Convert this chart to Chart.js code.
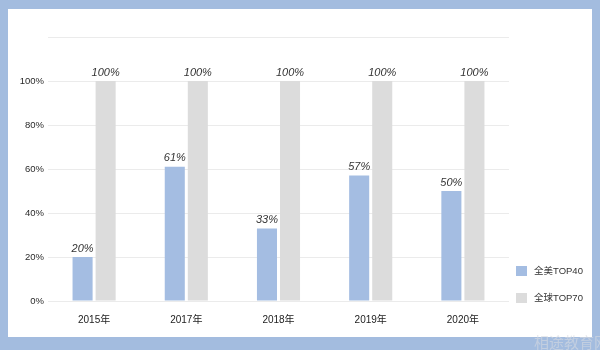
<!DOCTYPE html>
<html>
<head>
<meta charset="utf-8">
<script src="https://cdn.jsdelivr.net/npm/chart.js@4"></script>
<style>
  html, body { margin: 0; padding: 0; }
  body { width: 600px; height: 350px; background: #a3bcdf; position: relative; overflow: hidden; }
  #card { position: absolute; left: 8px; top: 9px; width: 584px; height: 328px; background: #fff; }
  #mark { position: absolute; left: 534px; top: 331px; font: 15px "Noto Sans CJK SC", sans-serif; color: rgba(215, 218, 225, 0.6); white-space: nowrap; }
</style>
</head>
<body>
<div id="card"><canvas id="myChart" width="584" height="328"></canvas></div>
<div id="mark">相途教育网</div>
<script>
// categories and series
var years = ['2015年', '2017年', '2018年', '2019年', '2020年'];
var usTop40 = [20, 61, 33, 57, 50];
var worldTop70 = [100, 100, 100, 100, 100];
// y ticks: 0..100 labelled, 120 is only a gridline
var yTicks = [0, 20, 40, 60, 80, 100, 120];

var fontFamily = '"Liberation Sans", Arial, "Noto Sans CJK SC", sans-serif';

// percent labels above each bar
var valueLabels = {
  id: 'valueLabels',
  afterDatasetsDraw: function (chart) {
    var ctx = chart.ctx;
    ctx.save();
    ctx.font = 'italic 11px ' + fontFamily;
    ctx.fillStyle = '#333';
    ctx.textAlign = 'center';
    ctx.textBaseline = 'bottom';
    chart.data.datasets.forEach(function (ds, i) {
      chart.getDatasetMeta(i).data.forEach(function (bar, j) {
        ctx.fillText(ds.data[j] + '%', bar.x, bar.y - 3);
      });
    });
    ctx.restore();
  }
};

// legend stacked at the bottom right, next to the plot
var sideLegend = {
  id: 'sideLegend',
  afterDraw: function (chart) {
    var ctx = chart.ctx;
    var area = chart.chartArea;
    var n = chart.data.datasets.length;
    ctx.save();
    ctx.font = '9.5px ' + fontFamily;
    ctx.textBaseline = 'middle';
    chart.data.datasets.forEach(function (ds, i) {
      var cy = area.bottom - 3 - (n - 1 - i) * 27;
      ctx.fillStyle = ds.backgroundColor;
      ctx.fillRect(area.right + 7, cy - 5, 11, 10);
      ctx.fillStyle = '#333';
      ctx.fillText(ds.label, area.right + 25, cy);
    });
    ctx.restore();
  }
};

window.onload = function () {
  var ctx = document.getElementById('myChart').getContext('2d');
  var myChart = new Chart(ctx, {
    type: 'bar',
    data: {
      labels: years,
      datasets: [
        {
          label: '全美TOP40',
          data: usTop40,
          backgroundColor: '#a4bde2',
          categoryPercentage: 0.5,
          barPercentage: 0.87
        },
        {
          label: '全球TOP70',
          data: worldTop70,
          backgroundColor: '#dcdcdc',
          categoryPercentage: 0.5,
          barPercentage: 0.87
        }
      ]
    },
    options: {
      responsive: false,
      animation: false,
      layout: { padding: { left: 0, right: 83, top: 28, bottom: 0 } },
      plugins: {
        legend: { display: false },
        tooltip: { enabled: false }
      },
      scales: {
        x: {
          grid: { display: false },
          border: { display: false },
          ticks: {
            color: '#222',
            padding: 5,
            font: { family: fontFamily, size: 10 }
          },
          afterFit: function (scale) { scale.height = 36; }
        },
        y: {
          min: 0,
          max: 120,
          afterBuildTicks: function (scale) {
            scale.ticks = yTicks.map(function (v) { return { value: v }; });
          },
          grid: { color: '#ebebeb', drawTicks: false },
          border: { display: false },
          ticks: {
            color: '#2a2a2a',
            padding: 4,
            font: { family: fontFamily, size: 9.5 },
            callback: function (value) {
              return value === 120 ? '' : value + '%';
            }
          },
          afterFit: function (scale) { scale.width = 40; }
        }
      }
    },
    plugins: [valueLabels, sideLegend]
  });
};
</script>
</body>
</html>
